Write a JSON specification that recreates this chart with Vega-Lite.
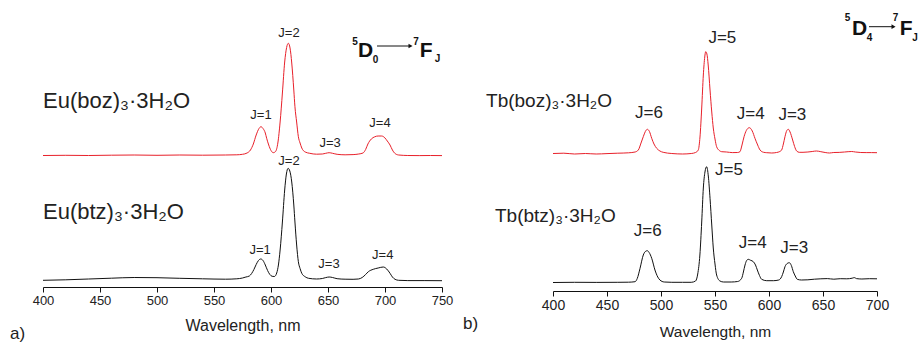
{
  "$schema": "https://vega.github.io/schema/vega-lite/v6.json",
  "background": "white",
  "padding": {"left": 10, "top": 10, "right": 0, "bottom": 0},
  "bounds": "flush",
  "spacing": 111,
  "config": {
    "view": {"stroke": null},
    "font": "Liberation Sans",
    "text": {"font": "Liberation Sans", "color": "#222"},
    "axis": {"labelFont": "Liberation Sans", "titleFont": "Liberation Sans", "labelColor": "#222", "titleColor": "#222", "titleFontWeight": "normal", "domainColor": "#111", "tickColor": "#111", "grid": false, "labelOverlap": false, "labelFlush": false}
  },
  "datasets": {
    "eu": [
      {"wl":400,"intensity":1.315,"sample":"Eu(boz)3"},{"wl":420,"intensity":1.317,"sample":"Eu(boz)3"},{"wl":440,"intensity":1.315,"sample":"Eu(boz)3"},{"wl":460,"intensity":1.318,"sample":"Eu(boz)3"},{"wl":480,"intensity":1.32,"sample":"Eu(boz)3"},{"wl":500,"intensity":1.317,"sample":"Eu(boz)3"},{"wl":520,"intensity":1.32,"sample":"Eu(boz)3"},{"wl":540,"intensity":1.318,"sample":"Eu(boz)3"},{"wl":560,"intensity":1.32,"sample":"Eu(boz)3"},{"wl":570,"intensity":1.322,"sample":"Eu(boz)3"},{"wl":575,"intensity":1.327,"sample":"Eu(boz)3"},{"wl":579,"intensity":1.34,"sample":"Eu(boz)3"},{"wl":582,"intensity":1.37,"sample":"Eu(boz)3"},{"wl":584.5,"intensity":1.43,"sample":"Eu(boz)3"},{"wl":587,"intensity":1.52,"sample":"Eu(boz)3"},{"wl":589.5,"intensity":1.585,"sample":"Eu(boz)3"},{"wl":591.2,"intensity":1.603,"sample":"Eu(boz)3"},{"wl":593,"intensity":1.585,"sample":"Eu(boz)3"},{"wl":595,"intensity":1.54,"sample":"Eu(boz)3"},{"wl":596.2,"intensity":1.487,"sample":"Eu(boz)3"},{"wl":598,"intensity":1.42,"sample":"Eu(boz)3"},{"wl":600,"intensity":1.365,"sample":"Eu(boz)3"},{"wl":602,"intensity":1.343,"sample":"Eu(boz)3"},{"wl":604,"intensity":1.355,"sample":"Eu(boz)3"},{"wl":606,"intensity":1.44,"sample":"Eu(boz)3"},{"wl":608,"intensity":1.65,"sample":"Eu(boz)3"},{"wl":610,"intensity":1.94,"sample":"Eu(boz)3"},{"wl":612,"intensity":2.25,"sample":"Eu(boz)3"},{"wl":613.7,"intensity":2.395,"sample":"Eu(boz)3"},{"wl":615.2,"intensity":2.437,"sample":"Eu(boz)3"},{"wl":616.7,"intensity":2.39,"sample":"Eu(boz)3"},{"wl":618.2,"intensity":2.24,"sample":"Eu(boz)3"},{"wl":620,"intensity":1.97,"sample":"Eu(boz)3"},{"wl":621,"intensity":1.803,"sample":"Eu(boz)3"},{"wl":622.5,"intensity":1.65,"sample":"Eu(boz)3"},{"wl":624,"intensity":1.503,"sample":"Eu(boz)3"},{"wl":625.5,"intensity":1.44,"sample":"Eu(boz)3"},{"wl":627,"intensity":1.39,"sample":"Eu(boz)3"},{"wl":630,"intensity":1.35,"sample":"Eu(boz)3"},{"wl":634,"intensity":1.337,"sample":"Eu(boz)3"},{"wl":640,"intensity":1.328,"sample":"Eu(boz)3"},{"wl":645,"intensity":1.33,"sample":"Eu(boz)3"},{"wl":648,"intensity":1.337,"sample":"Eu(boz)3"},{"wl":651,"intensity":1.343,"sample":"Eu(boz)3"},{"wl":654,"intensity":1.337,"sample":"Eu(boz)3"},{"wl":658,"intensity":1.327,"sample":"Eu(boz)3"},{"wl":665,"intensity":1.322,"sample":"Eu(boz)3"},{"wl":672,"intensity":1.324,"sample":"Eu(boz)3"},{"wl":677,"intensity":1.33,"sample":"Eu(boz)3"},{"wl":680.7,"intensity":1.34,"sample":"Eu(boz)3"},{"wl":683,"intensity":1.375,"sample":"Eu(boz)3"},{"wl":685,"intensity":1.43,"sample":"Eu(boz)3"},{"wl":688,"intensity":1.48,"sample":"Eu(boz)3"},{"wl":691,"intensity":1.502,"sample":"Eu(boz)3"},{"wl":694,"intensity":1.51,"sample":"Eu(boz)3"},{"wl":697,"intensity":1.51,"sample":"Eu(boz)3"},{"wl":700,"intensity":1.49,"sample":"Eu(boz)3"},{"wl":702,"intensity":1.46,"sample":"Eu(boz)3"},{"wl":704.4,"intensity":1.42,"sample":"Eu(boz)3"},{"wl":706.5,"intensity":1.37,"sample":"Eu(boz)3"},{"wl":708.6,"intensity":1.337,"sample":"Eu(boz)3"},{"wl":712,"intensity":1.32,"sample":"Eu(boz)3"},{"wl":720,"intensity":1.315,"sample":"Eu(boz)3"},{"wl":730,"intensity":1.314,"sample":"Eu(boz)3"},{"wl":740,"intensity":1.315,"sample":"Eu(boz)3"},{"wl":750,"intensity":1.314,"sample":"Eu(boz)3"},
      {"wl":400,"intensity":0.067,"sample":"Eu(btz)3"},{"wl":420,"intensity":0.072,"sample":"Eu(btz)3"},{"wl":440,"intensity":0.08,"sample":"Eu(btz)3"},{"wl":460,"intensity":0.088,"sample":"Eu(btz)3"},{"wl":480,"intensity":0.095,"sample":"Eu(btz)3"},{"wl":500,"intensity":0.093,"sample":"Eu(btz)3"},{"wl":520,"intensity":0.087,"sample":"Eu(btz)3"},{"wl":540,"intensity":0.082,"sample":"Eu(btz)3"},{"wl":560,"intensity":0.078,"sample":"Eu(btz)3"},{"wl":570,"intensity":0.082,"sample":"Eu(btz)3"},{"wl":575,"intensity":0.09,"sample":"Eu(btz)3"},{"wl":578,"intensity":0.1,"sample":"Eu(btz)3"},{"wl":581,"intensity":0.11,"sample":"Eu(btz)3"},{"wl":583,"intensity":0.135,"sample":"Eu(btz)3"},{"wl":585,"intensity":0.175,"sample":"Eu(btz)3"},{"wl":587,"intensity":0.225,"sample":"Eu(btz)3"},{"wl":589,"intensity":0.265,"sample":"Eu(btz)3"},{"wl":591,"intensity":0.28,"sample":"Eu(btz)3"},{"wl":593,"intensity":0.265,"sample":"Eu(btz)3"},{"wl":595,"intensity":0.22,"sample":"Eu(btz)3"},{"wl":597,"intensity":0.165,"sample":"Eu(btz)3"},{"wl":599,"intensity":0.125,"sample":"Eu(btz)3"},{"wl":601,"intensity":0.107,"sample":"Eu(btz)3"},{"wl":603,"intensity":0.105,"sample":"Eu(btz)3"},{"wl":605,"intensity":0.14,"sample":"Eu(btz)3"},{"wl":606.5,"intensity":0.22,"sample":"Eu(btz)3"},{"wl":608,"intensity":0.37,"sample":"Eu(btz)3"},{"wl":610,"intensity":0.65,"sample":"Eu(btz)3"},{"wl":612,"intensity":0.97,"sample":"Eu(btz)3"},{"wl":613.5,"intensity":1.13,"sample":"Eu(btz)3"},{"wl":615,"intensity":1.187,"sample":"Eu(btz)3"},{"wl":616.5,"intensity":1.16,"sample":"Eu(btz)3"},{"wl":618.2,"intensity":1.05,"sample":"Eu(btz)3"},{"wl":620,"intensity":0.82,"sample":"Eu(btz)3"},{"wl":621,"intensity":0.65,"sample":"Eu(btz)3"},{"wl":622.5,"intensity":0.42,"sample":"Eu(btz)3"},{"wl":624,"intensity":0.253,"sample":"Eu(btz)3"},{"wl":625.5,"intensity":0.185,"sample":"Eu(btz)3"},{"wl":627,"intensity":0.137,"sample":"Eu(btz)3"},{"wl":630,"intensity":0.102,"sample":"Eu(btz)3"},{"wl":633,"intensity":0.087,"sample":"Eu(btz)3"},{"wl":640,"intensity":0.08,"sample":"Eu(btz)3"},{"wl":645,"intensity":0.085,"sample":"Eu(btz)3"},{"wl":648,"intensity":0.094,"sample":"Eu(btz)3"},{"wl":651,"intensity":0.1,"sample":"Eu(btz)3"},{"wl":654,"intensity":0.095,"sample":"Eu(btz)3"},{"wl":658,"intensity":0.083,"sample":"Eu(btz)3"},{"wl":665,"intensity":0.078,"sample":"Eu(btz)3"},{"wl":672,"intensity":0.077,"sample":"Eu(btz)3"},{"wl":676.6,"intensity":0.08,"sample":"Eu(btz)3"},{"wl":680,"intensity":0.095,"sample":"Eu(btz)3"},{"wl":683,"intensity":0.125,"sample":"Eu(btz)3"},{"wl":685.4,"intensity":0.153,"sample":"Eu(btz)3"},{"wl":689.7,"intensity":0.177,"sample":"Eu(btz)3"},{"wl":694,"intensity":0.19,"sample":"Eu(btz)3"},{"wl":698.5,"intensity":0.2,"sample":"Eu(btz)3"},{"wl":701.5,"intensity":0.18,"sample":"Eu(btz)3"},{"wl":704.4,"intensity":0.137,"sample":"Eu(btz)3"},{"wl":706.5,"intensity":0.1,"sample":"Eu(btz)3"},{"wl":708.8,"intensity":0.077,"sample":"Eu(btz)3"},{"wl":712,"intensity":0.067,"sample":"Eu(btz)3"},{"wl":720,"intensity":0.064,"sample":"Eu(btz)3"},{"wl":735,"intensity":0.064,"sample":"Eu(btz)3"},{"wl":750,"intensity":0.063,"sample":"Eu(btz)3"}
    ],
    "tb": [
      {"wl":400,"intensity":1.375,"sample":"Tb(boz)3"},{"wl":410,"intensity":1.378,"sample":"Tb(boz)3"},{"wl":420,"intensity":1.37,"sample":"Tb(boz)3"},{"wl":430,"intensity":1.375,"sample":"Tb(boz)3"},{"wl":440,"intensity":1.37,"sample":"Tb(boz)3"},{"wl":450,"intensity":1.374,"sample":"Tb(boz)3"},{"wl":460,"intensity":1.378,"sample":"Tb(boz)3"},{"wl":470,"intensity":1.382,"sample":"Tb(boz)3"},{"wl":476,"intensity":1.39,"sample":"Tb(boz)3"},{"wl":479,"intensity":1.41,"sample":"Tb(boz)3"},{"wl":481.5,"intensity":1.48,"sample":"Tb(boz)3"},{"wl":483.6,"intensity":1.543,"sample":"Tb(boz)3"},{"wl":485.5,"intensity":1.595,"sample":"Tb(boz)3"},{"wl":487.3,"intensity":1.617,"sample":"Tb(boz)3"},{"wl":489.3,"intensity":1.595,"sample":"Tb(boz)3"},{"wl":491.4,"intensity":1.527,"sample":"Tb(boz)3"},{"wl":493.5,"intensity":1.47,"sample":"Tb(boz)3"},{"wl":496,"intensity":1.427,"sample":"Tb(boz)3"},{"wl":499,"intensity":1.4,"sample":"Tb(boz)3"},{"wl":502,"intensity":1.387,"sample":"Tb(boz)3"},{"wl":510,"intensity":1.375,"sample":"Tb(boz)3"},{"wl":520,"intensity":1.37,"sample":"Tb(boz)3"},{"wl":528,"intensity":1.375,"sample":"Tb(boz)3"},{"wl":532,"intensity":1.385,"sample":"Tb(boz)3"},{"wl":534.5,"intensity":1.41,"sample":"Tb(boz)3"},{"wl":536.1,"intensity":1.54,"sample":"Tb(boz)3"},{"wl":537.7,"intensity":1.83,"sample":"Tb(boz)3"},{"wl":539.2,"intensity":2.16,"sample":"Tb(boz)3"},{"wl":540.5,"intensity":2.34,"sample":"Tb(boz)3"},{"wl":541.4,"intensity":2.393,"sample":"Tb(boz)3"},{"wl":542.5,"intensity":2.37,"sample":"Tb(boz)3"},{"wl":543.7,"intensity":2.26,"sample":"Tb(boz)3"},{"wl":545.4,"intensity":2.01,"sample":"Tb(boz)3"},{"wl":547,"intensity":1.79,"sample":"Tb(boz)3"},{"wl":548.4,"intensity":1.63,"sample":"Tb(boz)3"},{"wl":550,"intensity":1.52,"sample":"Tb(boz)3"},{"wl":551.5,"intensity":1.443,"sample":"Tb(boz)3"},{"wl":554,"intensity":1.405,"sample":"Tb(boz)3"},{"wl":556.2,"intensity":1.393,"sample":"Tb(boz)3"},{"wl":560.8,"intensity":1.39,"sample":"Tb(boz)3"},{"wl":566,"intensity":1.384,"sample":"Tb(boz)3"},{"wl":571,"intensity":1.385,"sample":"Tb(boz)3"},{"wl":573.1,"intensity":1.393,"sample":"Tb(boz)3"},{"wl":575,"intensity":1.46,"sample":"Tb(boz)3"},{"wl":576.9,"intensity":1.543,"sample":"Tb(boz)3"},{"wl":579,"intensity":1.605,"sample":"Tb(boz)3"},{"wl":581.8,"intensity":1.633,"sample":"Tb(boz)3"},{"wl":584.5,"intensity":1.6,"sample":"Tb(boz)3"},{"wl":587,"intensity":1.527,"sample":"Tb(boz)3"},{"wl":589.5,"intensity":1.46,"sample":"Tb(boz)3"},{"wl":591.7,"intensity":1.41,"sample":"Tb(boz)3"},{"wl":595,"intensity":1.387,"sample":"Tb(boz)3"},{"wl":597.9,"intensity":1.383,"sample":"Tb(boz)3"},{"wl":602.5,"intensity":1.38,"sample":"Tb(boz)3"},{"wl":607,"intensity":1.385,"sample":"Tb(boz)3"},{"wl":610,"intensity":1.395,"sample":"Tb(boz)3"},{"wl":611.7,"intensity":1.41,"sample":"Tb(boz)3"},{"wl":613.3,"intensity":1.47,"sample":"Tb(boz)3"},{"wl":614.8,"intensity":1.543,"sample":"Tb(boz)3"},{"wl":616.5,"intensity":1.605,"sample":"Tb(boz)3"},{"wl":617.9,"intensity":1.617,"sample":"Tb(boz)3"},{"wl":619.5,"intensity":1.59,"sample":"Tb(boz)3"},{"wl":621.9,"intensity":1.51,"sample":"Tb(boz)3"},{"wl":623.7,"intensity":1.445,"sample":"Tb(boz)3"},{"wl":625.6,"intensity":1.4,"sample":"Tb(boz)3"},{"wl":628,"intensity":1.387,"sample":"Tb(boz)3"},{"wl":631.5,"intensity":1.387,"sample":"Tb(boz)3"},{"wl":636,"intensity":1.39,"sample":"Tb(boz)3"},{"wl":640,"intensity":1.395,"sample":"Tb(boz)3"},{"wl":644,"intensity":1.4,"sample":"Tb(boz)3"},{"wl":648,"intensity":1.393,"sample":"Tb(boz)3"},{"wl":652,"intensity":1.385,"sample":"Tb(boz)3"},{"wl":656,"intensity":1.38,"sample":"Tb(boz)3"},{"wl":660,"intensity":1.385,"sample":"Tb(boz)3"},{"wl":665,"intensity":1.386,"sample":"Tb(boz)3"},{"wl":670,"intensity":1.39,"sample":"Tb(boz)3"},{"wl":676.6,"intensity":1.395,"sample":"Tb(boz)3"},{"wl":680,"intensity":1.39,"sample":"Tb(boz)3"},{"wl":685,"intensity":1.385,"sample":"Tb(boz)3"},{"wl":690,"intensity":1.384,"sample":"Tb(boz)3"},{"wl":695,"intensity":1.384,"sample":"Tb(boz)3"},{"wl":700,"intensity":1.383,"sample":"Tb(boz)3"},
      {"wl":400,"intensity":0.085,"sample":"Tb(btz)3"},{"wl":420,"intensity":0.087,"sample":"Tb(btz)3"},{"wl":440,"intensity":0.086,"sample":"Tb(btz)3"},{"wl":460,"intensity":0.087,"sample":"Tb(btz)3"},{"wl":470,"intensity":0.088,"sample":"Tb(btz)3"},{"wl":476,"intensity":0.093,"sample":"Tb(btz)3"},{"wl":478,"intensity":0.125,"sample":"Tb(btz)3"},{"wl":480.6,"intensity":0.227,"sample":"Tb(btz)3"},{"wl":483.6,"intensity":0.36,"sample":"Tb(btz)3"},{"wl":485.5,"intensity":0.395,"sample":"Tb(btz)3"},{"wl":487.3,"intensity":0.403,"sample":"Tb(btz)3"},{"wl":489,"intensity":0.385,"sample":"Tb(btz)3"},{"wl":491.4,"intensity":0.327,"sample":"Tb(btz)3"},{"wl":494.4,"intensity":0.21,"sample":"Tb(btz)3"},{"wl":497,"intensity":0.14,"sample":"Tb(btz)3"},{"wl":499,"intensity":0.11,"sample":"Tb(btz)3"},{"wl":503,"intensity":0.09,"sample":"Tb(btz)3"},{"wl":510,"intensity":0.087,"sample":"Tb(btz)3"},{"wl":520,"intensity":0.087,"sample":"Tb(btz)3"},{"wl":528,"intensity":0.087,"sample":"Tb(btz)3"},{"wl":532,"intensity":0.1,"sample":"Tb(btz)3"},{"wl":534,"intensity":0.17,"sample":"Tb(btz)3"},{"wl":536,"intensity":0.36,"sample":"Tb(btz)3"},{"wl":537.7,"intensity":0.69,"sample":"Tb(btz)3"},{"wl":539.2,"intensity":1.03,"sample":"Tb(btz)3"},{"wl":540.7,"intensity":1.19,"sample":"Tb(btz)3"},{"wl":542.3,"intensity":1.243,"sample":"Tb(btz)3"},{"wl":543.8,"intensity":1.15,"sample":"Tb(btz)3"},{"wl":545.4,"intensity":0.927,"sample":"Tb(btz)3"},{"wl":547,"intensity":0.66,"sample":"Tb(btz)3"},{"wl":548.4,"intensity":0.43,"sample":"Tb(btz)3"},{"wl":550,"intensity":0.27,"sample":"Tb(btz)3"},{"wl":551.5,"intensity":0.16,"sample":"Tb(btz)3"},{"wl":554.6,"intensity":0.1,"sample":"Tb(btz)3"},{"wl":558,"intensity":0.09,"sample":"Tb(btz)3"},{"wl":565,"intensity":0.09,"sample":"Tb(btz)3"},{"wl":571,"intensity":0.095,"sample":"Tb(btz)3"},{"wl":574.7,"intensity":0.127,"sample":"Tb(btz)3"},{"wl":576.3,"intensity":0.19,"sample":"Tb(btz)3"},{"wl":577.8,"intensity":0.26,"sample":"Tb(btz)3"},{"wl":579.3,"intensity":0.305,"sample":"Tb(btz)3"},{"wl":580.8,"intensity":0.317,"sample":"Tb(btz)3"},{"wl":583,"intensity":0.307,"sample":"Tb(btz)3"},{"wl":585.5,"intensity":0.293,"sample":"Tb(btz)3"},{"wl":587.5,"intensity":0.26,"sample":"Tb(btz)3"},{"wl":589.2,"intensity":0.21,"sample":"Tb(btz)3"},{"wl":591.2,"intensity":0.155,"sample":"Tb(btz)3"},{"wl":593.2,"intensity":0.117,"sample":"Tb(btz)3"},{"wl":597.9,"intensity":0.103,"sample":"Tb(btz)3"},{"wl":604,"intensity":0.103,"sample":"Tb(btz)3"},{"wl":609,"intensity":0.11,"sample":"Tb(btz)3"},{"wl":611.7,"intensity":0.143,"sample":"Tb(btz)3"},{"wl":613.3,"intensity":0.19,"sample":"Tb(btz)3"},{"wl":614.8,"intensity":0.243,"sample":"Tb(btz)3"},{"wl":616.8,"intensity":0.275,"sample":"Tb(btz)3"},{"wl":618.8,"intensity":0.283,"sample":"Tb(btz)3"},{"wl":620.7,"intensity":0.255,"sample":"Tb(btz)3"},{"wl":622.5,"intensity":0.193,"sample":"Tb(btz)3"},{"wl":624.3,"intensity":0.15,"sample":"Tb(btz)3"},{"wl":626.2,"intensity":0.117,"sample":"Tb(btz)3"},{"wl":630,"intensity":0.11,"sample":"Tb(btz)3"},{"wl":636,"intensity":0.112,"sample":"Tb(btz)3"},{"wl":642,"intensity":0.118,"sample":"Tb(btz)3"},{"wl":648,"intensity":0.122,"sample":"Tb(btz)3"},{"wl":654,"intensity":0.124,"sample":"Tb(btz)3"},{"wl":660,"intensity":0.118,"sample":"Tb(btz)3"},{"wl":666,"intensity":0.123,"sample":"Tb(btz)3"},{"wl":672,"intensity":0.122,"sample":"Tb(btz)3"},{"wl":677,"intensity":0.128,"sample":"Tb(btz)3"},{"wl":679,"intensity":0.134,"sample":"Tb(btz)3"},{"wl":681,"intensity":0.124,"sample":"Tb(btz)3"},{"wl":686,"intensity":0.12,"sample":"Tb(btz)3"},{"wl":693,"intensity":0.123,"sample":"Tb(btz)3"},{"wl":700,"intensity":0.122,"sample":"Tb(btz)3"}
    ],
    "eu_peaks": [
      {"wl":615.8,"intensity":2.54,"text":"J=2"},{"wl":591.2,"intensity":1.72,"text":"J=1"},{"wl":651.8,"intensity":1.443,"text":"J=3"},{"wl":695.6,"intensity":1.64,"text":"J=4"},
      {"wl":615.8,"intensity":1.26,"text":"J=2"},{"wl":590.4,"intensity":0.37,"text":"J=1"},{"wl":650.9,"intensity":0.23,"text":"J=3"},{"wl":698,"intensity":0.32,"text":"J=4"}
    ],
    "eu_names": [
      {"wl":400,"intensity":1.787,"text":"Eu(boz)₃·3H₂O"},{"wl":400,"intensity":0.68,"text":"Eu(btz)₃·3H₂O"}
    ],
    "eu_panel": [{"wl":371.1,"intensity":-0.465,"text":"a)"}],
    "eu_big": [{"wl":682.9,"intensity":2.303,"text":"D"},{"wl":736,"intensity":2.303,"text":"F"}],
    "eu_small": [{"wl":673.7,"intensity":2.455,"text":"5"},{"wl":691.7,"intensity":2.27,"text":"0"},{"wl":727.2,"intensity":2.455,"text":"7"},{"wl":746,"intensity":2.28,"text":"J"}],
    "eu_arrow": [{"wl":693,"wl2":722.4,"intensity":2.41}],
    "tb_peaks": [
      {"wl":488.9,"intensity":1.777,"text":"J=6"},{"wl":556.8,"intensity":2.527,"text":"J=5"},{"wl":583.1,"intensity":1.77,"text":"J=4"},{"wl":621.6,"intensity":1.763,"text":"J=3"},
      {"wl":487.7,"intensity":0.6,"text":"J=6"},{"wl":563,"intensity":1.21,"text":"J=5"},{"wl":584.9,"intensity":0.483,"text":"J=4"},{"wl":623.4,"intensity":0.427,"text":"J=3"}
    ],
    "tb_names": [
      {"wl":338,"intensity":1.837,"text":"Tb(boz)₃·3H₂O"},{"wl":346.3,"intensity":0.693,"text":"Tb(btz)₃·3H₂O"}
    ],
    "tb_panel": [{"wl":316.7,"intensity":-0.33,"text":"b)"}],
    "tb_big": [{"wl":683.8,"intensity":2.56,"text":"D"},{"wl":726.9,"intensity":2.56,"text":"F"}],
    "tb_small": [{"wl":672.7,"intensity":2.73,"text":"5"},{"wl":693,"intensity":2.535,"text":"4"},{"wl":717.1,"intensity":2.735,"text":"7"},{"wl":735.2,"intensity":2.53,"text":"J"}],
    "tb_arrow": [{"wl":692.6,"wl2":715.3,"intensity":2.643}]
  },
  "hconcat": [
    {
      "width": 399,
      "height": 277,
      "layer": [
        {
          "data": {"name": "eu"},
          "mark": {"type": "line", "strokeWidth": 1, "interpolate": "monotone"},
          "encoding": {
            "x": {"field": "wl", "type": "quantitative", "scale": {"domain": [400, 750], "nice": false, "zero": false},
              "axis": {"title": "Wavelength, nm", "values": [400,425,450,475,500,525,550,575,600,625,650,675,700,725,750],
                "labelExpr": "datum.value % 50 === 0 ? datum.label : ''", "labelFontSize": 13, "titleFontSize": 16, "titlePadding": 10, "labelPadding": 2,
                "tickSize": {"condition": {"test": "datum.value % 50 === 0", "value": 5}, "value": 3}}},
            "y": {"field": "intensity", "type": "quantitative", "scale": {"domain": [0, 2.77], "nice": false, "zero": false}, "axis": null},
            "color": {"field": "sample", "type": "nominal", "scale": {"domain": ["Eu(boz)3", "Eu(btz)3"], "range": ["#e8202a", "#111111"]}, "legend": null}
          }
        },
        {
          "data": {"name": "eu_peaks"},
          "mark": {"type": "text", "fontSize": 13, "baseline": "middle", "align": "center"},
          "encoding": {"x": {"field": "wl", "type": "quantitative"}, "y": {"field": "intensity", "type": "quantitative"}, "text": {"field": "text"}}
        },
        {
          "data": {"name": "eu_names"},
          "mark": {"type": "text", "fontSize": 22, "baseline": "alphabetic", "align": "left"},
          "encoding": {"x": {"field": "wl", "type": "quantitative"}, "y": {"field": "intensity", "type": "quantitative"}, "text": {"field": "text"}}
        },
        {
          "data": {"name": "eu_panel"},
          "mark": {"type": "text", "fontSize": 17, "baseline": "middle", "align": "left"},
          "encoding": {"x": {"field": "wl", "type": "quantitative"}, "y": {"field": "intensity", "type": "quantitative"}, "text": {"field": "text"}}
        },
        {
          "data": {"name": "eu_big"},
          "mark": {"type": "text", "fontSize": 21, "fontWeight": "bold", "baseline": "alphabetic", "align": "center", "color": "#111"},
          "encoding": {"x": {"field": "wl", "type": "quantitative"}, "y": {"field": "intensity", "type": "quantitative"}, "text": {"field": "text"}}
        },
        {
          "data": {"name": "eu_small"},
          "mark": {"type": "text", "fontSize": 10, "fontWeight": "bold", "baseline": "middle", "align": "center", "color": "#111"},
          "encoding": {"x": {"field": "wl", "type": "quantitative"}, "y": {"field": "intensity", "type": "quantitative"}, "text": {"field": "text"}}
        },
        {
          "data": {"name": "eu_arrow"},
          "mark": {"type": "rule", "strokeWidth": 1, "color": "#111"},
          "encoding": {"x": {"field": "wl", "type": "quantitative"}, "x2": {"field": "wl2"}, "y": {"field": "intensity", "type": "quantitative"}}
        },
        {
          "data": {"name": "eu_arrow"},
          "mark": {"type": "point", "shape": "triangle-right", "filled": true, "size": 22, "color": "#111", "opacity": 1},
          "encoding": {"x": {"field": "wl2", "type": "quantitative"}, "y": {"field": "intensity", "type": "quantitative"}}
        }
      ]
    },
    {
      "width": 324,
      "height": 281,
      "layer": [
        {
          "data": {"name": "tb"},
          "mark": {"type": "line", "strokeWidth": 1, "interpolate": "monotone"},
          "encoding": {
            "x": {"field": "wl", "type": "quantitative", "scale": {"domain": [400, 700], "nice": false, "zero": false},
              "axis": {"title": "Wavelength, nm", "values": [400,425,450,475,500,525,550,575,600,625,650,675,700],
                "labelExpr": "datum.value % 50 === 0 ? datum.label : ''", "labelFontSize": 14, "titleFontSize": 15.5, "titlePadding": 12, "labelPadding": 2,
                "tickSize": {"condition": {"test": "datum.value % 50 === 0", "value": 5}, "value": 3}}},
            "y": {"field": "intensity", "type": "quantitative", "scale": {"domain": [0, 2.81], "nice": false, "zero": false}, "axis": null},
            "color": {"field": "sample", "type": "nominal", "scale": {"domain": ["Tb(boz)3", "Tb(btz)3"], "range": ["#e8202a", "#111111"]}, "legend": null}
          }
        },
        {
          "data": {"name": "tb_peaks"},
          "mark": {"type": "text", "fontSize": 17, "baseline": "middle", "align": "center"},
          "encoding": {"x": {"field": "wl", "type": "quantitative"}, "y": {"field": "intensity", "type": "quantitative"}, "text": {"field": "text"}}
        },
        {
          "data": {"name": "tb_names"},
          "mark": {"type": "text", "fontSize": 19, "baseline": "alphabetic", "align": "left"},
          "encoding": {"x": {"field": "wl", "type": "quantitative"}, "y": {"field": "intensity", "type": "quantitative"}, "text": {"field": "text"}}
        },
        {
          "data": {"name": "tb_panel"},
          "mark": {"type": "text", "fontSize": 17, "baseline": "middle", "align": "left"},
          "encoding": {"x": {"field": "wl", "type": "quantitative"}, "y": {"field": "intensity", "type": "quantitative"}, "text": {"field": "text"}}
        },
        {
          "data": {"name": "tb_big"},
          "mark": {"type": "text", "fontSize": 21, "fontWeight": "bold", "baseline": "alphabetic", "align": "center", "color": "#111"},
          "encoding": {"x": {"field": "wl", "type": "quantitative"}, "y": {"field": "intensity", "type": "quantitative"}, "text": {"field": "text"}}
        },
        {
          "data": {"name": "tb_small"},
          "mark": {"type": "text", "fontSize": 10, "fontWeight": "bold", "baseline": "middle", "align": "center", "color": "#111"},
          "encoding": {"x": {"field": "wl", "type": "quantitative"}, "y": {"field": "intensity", "type": "quantitative"}, "text": {"field": "text"}}
        },
        {
          "data": {"name": "tb_arrow"},
          "mark": {"type": "rule", "strokeWidth": 1, "color": "#111"},
          "encoding": {"x": {"field": "wl", "type": "quantitative"}, "x2": {"field": "wl2"}, "y": {"field": "intensity", "type": "quantitative"}}
        },
        {
          "data": {"name": "tb_arrow"},
          "mark": {"type": "point", "shape": "triangle-right", "filled": true, "size": 22, "color": "#111", "opacity": 1},
          "encoding": {"x": {"field": "wl2", "type": "quantitative"}, "y": {"field": "intensity", "type": "quantitative"}}
        }
      ]
    }
  ]
}
